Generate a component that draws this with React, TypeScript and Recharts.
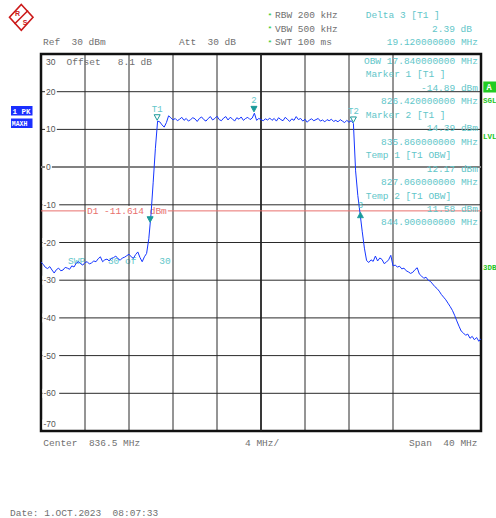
import React from 'react';
import {
  LineChart,
  Line,
  XAxis,
  YAxis,
  CartesianGrid,
  ReferenceLine,
  ReferenceDot,
  ReferenceArea,
} from 'recharts';

// ---- sweep settings ----
const START_MHZ = 816.5;
const STOP_MHZ = 856.5;
const STEP_MHZ = 0.2;
const CENTER_MHZ = 836.5;

// ---- trace 1 (PK / MAXH), dBm, one value per 0.2 MHz from 816.5 MHz ----
const traceLevels = [
  -25.2, -25.8, -26.6, -26.9, -26.4, -27.3, -28.1, -27.2, -26.8, -27.5,
  -27.3, -26.6, -26.8, -27.1, -26.2, -26.5, -25.5, -25.1, -25.6, -26.0,
  -25.3, -25.1, -25.7, -25.4, -24.9, -25.1, -24.3, -23.8, -25.1, -24.6,
  -24.4, -24.9, -24.2, -24.0, -23.6, -24.3, -24.7, -24.1, -23.9, -23.5,
  -23.1, -23.8, -24.2, -23.2, -22.5, -24.0, -25.1, -23.8, -22.9, -19.0,
  -12.5, -4.0, 5.0, 12.2, 12.0, 11.2, 10.6, 11.8, 13.6, 13.1,
  12.5, 12.9, 12.3, 12.7, 13.2, 12.4, 12.9, 12.2, 12.6, 13.1,
  12.8, 12.1, 12.9, 13.3, 12.6, 12.2, 12.9, 13.4, 12.5, 12.9,
  13.5, 12.6, 12.3, 13.0, 13.4, 12.5, 13.2, 12.8, 12.2, 13.1,
  12.7, 13.3, 12.4, 12.9, 13.2, 12.6, 13.0, 14.3, 12.4, 12.9,
  12.6, 12.3, 12.8, 12.5, 13.0, 12.4, 12.9, 12.2, 13.1, 12.6,
  12.3, 13.2, 12.7, 12.1, 12.8, 12.4, 13.4, 12.6, 12.9, 12.2,
  12.7, 11.9, 12.5, 12.8, 12.3, 12.6, 12.9, 12.2, 12.5, 12.0,
  12.6, 12.3, 12.7, 12.1, 12.4, 12.0, 12.6, 12.2, 11.8, 12.4,
  11.9, 12.3, 11.6, -1.0, -7.5, -12.2, -17.0, -21.5, -24.8, -25.3,
  -24.6, -25.0, -23.6, -24.9, -24.1, -24.5, -25.6, -25.2, -24.6, -23.4,
  -26.2, -26.0, -26.5, -26.3, -27.0, -26.8, -27.5, -27.8, -28.2, -27.9,
  -27.2, -26.7, -28.4, -28.9, -29.5, -29.2, -30.0, -30.3, -31.0, -31.7,
  -32.2, -32.9, -33.8, -34.5, -35.2, -36.1, -37.0, -38.0, -39.3, -40.8,
  -42.2, -43.5, -44.0, -44.6, -44.3, -45.4, -44.9, -45.8, -45.2, -46.2,
  -45.5,
];

// ---- axes ----
const freqTicks = [816.5, 820.5, 824.5, 828.5, 832.5, 836.5, 840.5, 844.5, 848.5, 852.5, 856.5];
const levelTicks = [-70, -60, -50, -40, -30, -20, -10, 0, 10, 20, 30];

// ---- display line ----
const displayLineLevel = -11.614;
const displayLineLabel = 'D1 -11.614 dBm';

// ---- markers ----
const markerIds = ['1', 'T1', '2', 'T2', '3'];
const markerFreqs = [826.42, 827.06, 835.86, 844.9, 845.54];
const markerLevels = [-14.89, 12.17, 14.39, 11.58, -12.5];
const markerKinds = ['down-filled', 'down-open', 'down-filled', 'down-open', 'up-filled'];
const markerLabels = ['', 'T1', '2', 'T2', '3'];

// ---- text readouts ----
const headerLeft = ['Ref  30 dBm', 'Att  30 dB'];
const headerSettings = ['RBW 200 kHz', 'VBW 500 kHz', 'SWT 100 ms'];
const deltaReadout = ['Delta 3 [T1 ]', '2.39 dB', '19.120000000 MHz'];
const markerReadout = [
  { t: 'OBW 17.840000000 MHz', right: true },
  { t: 'Marker 1 [T1 ]', right: false },
  { t: '-14.89 dBm', right: true },
  { t: '826.420000000 MHz', right: true },
  { t: 'Marker 2 [T1 ]', right: false },
  { t: '14.39 dBm', right: true },
  { t: '835.860000000 MHz', right: true },
  { t: 'Temp 1 [T1 OBW]', right: false },
  { t: '12.17 dBm', right: true },
  { t: '827.060000000 MHz', right: true },
  { t: 'Temp 2 [T1 OBW]', right: false },
  { t: '11.58 dBm', right: true },
  { t: '844.900000000 MHz', right: true },
];
const footerTexts = ['Center  836.5 MHz', '4 MHz/', 'Span  40 MHz'];
const dateText = 'Date: 1.OCT.2023  08:07:33';
const sweepText = 'SWP    30 of    30';
const offsetText = 'Offset   8.1 dB';

const data = traceLevels.map((v, i) => ({
  f: Math.round((START_MHZ + i * STEP_MHZ) * 100) / 100,
  v,
}));

const W = 496;
const H = 518;
const PLOT_LEFT = 41;
const Y_AXIS_W = 30;
const MONO = '"Liberation Mono", "DejaVu Sans Mono", monospace';
const CYAN = '#62c6c9';
const GRAY = '#707070';
const BLUE = '#1636ff';
const TEAL = '#1a9a9a';
const RED = '#e8706e';

const LevelTick = (props: any) => {
  const { y, payload } = props;
  const v = payload.value as number;
  let ty = y;
  if (v === 30) ty = y + 8;
  if (v === -70) ty = y - 7;
  const label = String(v);
  const tx = v < 0 ? PLOT_LEFT + 2.5 : PLOT_LEFT + 5;
  const w = label.length * 4.9 + 2;
  return (
    <g>
      <rect x={tx - 1} y={ty - 4.5} width={w} height={9} fill="#fff" />
      <text
        x={tx}
        y={ty + 3}
        fontFamily='"Liberation Sans", Arial, sans-serif'
        fontSize={8.5}
        fill="#555"
      >
        {label}
      </text>
    </g>
  );
};

const makeMarkerShape = (kind: string, label: string) => (props: any) => {
  const { cx, cy } = props;
  if (cx == null || cy == null) return <g />;
  let tri;
  if (kind === 'up-filled') {
    tri = (
      <polygon
        points={`${cx},${cy - 2} ${cx - 3},${cy + 3.5} ${cx + 3},${cy + 3.5}`}
        fill={TEAL}
        stroke={TEAL}
        strokeWidth={0.8}
      />
    );
  } else {
    tri = (
      <polygon
        points={`${cx - 3},${cy - 6.5} ${cx + 3},${cy - 6.5} ${cx},${cy - 1}`}
        fill={kind === 'down-filled' ? TEAL : '#fff'}
        stroke={TEAL}
        strokeWidth={1}
      />
    );
  }
  const ly = kind === 'up-filled' ? cy - 6 : cy - 9.5;
  return (
    <g>
      {tri}
      {label ? (
        <text x={cx} y={ly} textAnchor="middle" fontFamily={MONO} fontSize={9} fill={CYAN}>
          {label}
        </text>
      ) : null}
    </g>
  );
};

const D1Label = (props: any) => {
  const vb = props.viewBox || {};
  const x = (vb.x ?? PLOT_LEFT) + 46;
  const y = vb.y ?? 0;
  return (
    <g>
      <rect x={x - 1} y={y - 5} width={displayLineLabel.length * 5.7 + 2} height={10} fill="#fff" />
      <text x={x} y={y + 3} fontFamily={MONO} fontSize={9.5} fill={RED} style={{ whiteSpace: 'pre' }}>
        {displayLineLabel}
      </text>
    </g>
  );
};

const T = (p: { x: number; y: number; fill?: string; anchor?: 'start' | 'end' | 'middle'; size?: number; children: any; weight?: any; family?: string }) => (
  <text
    x={p.x}
    y={p.y}
    fill={p.fill || GRAY}
    textAnchor={p.anchor || 'start'}
    fontFamily={p.family || MONO}
    fontSize={p.size || 9.5}
    fontWeight={p.weight || 'normal'}
    style={{ whiteSpace: 'pre' }}
  >
    {p.children}
  </text>
);

export default function App() {
  return (
    <div style={{ position: 'absolute', left: 0, top: 0, width: W, height: H, background: '#fff' }}>
      {/* underlay texts (drawn beneath trace) */}
      <svg width={W} height={H} style={{ position: 'absolute', left: 0, top: 0 }}>
        <T x={68} y={264} fill={CYAN}>{sweepText}</T>
      </svg>
      <div style={{ position: 'absolute', left: 0, top: 0 }}>
        <LineChart
          width={W}
          height={H}
          data={data}
          margin={{ top: 54, right: 15, bottom: 87, left: PLOT_LEFT - Y_AXIS_W }}
        >
          <XAxis
            dataKey="f"
            type="number"
            domain={[START_MHZ, STOP_MHZ]}
            ticks={freqTicks}
            hide
            height={0}
            allowDataOverflow
          />
          <YAxis
            type="number"
            domain={[-70, 30]}
            ticks={levelTicks}
            width={Y_AXIS_W}
            axisLine={false}
            tickLine={false}
            tick={LevelTick}
            interval={0}
            allowDataOverflow
          />
          <CartesianGrid stroke="#2a2a2a" strokeWidth={1} />
          <ReferenceLine y={0} stroke="#808080" strokeWidth={2} />
          <ReferenceLine x={CENTER_MHZ} stroke="#222" strokeWidth={1.6} />
          <ReferenceLine y={displayLineLevel} stroke={RED} strokeWidth={1} label={D1Label} />
          <Line
            type="linear"
            dataKey="v"
            stroke={BLUE}
            strokeWidth={1}
            dot={false}
            isAnimationActive={false}
          />
          {markerIds.map((id, i) => (
            <ReferenceDot
              key={id}
              x={markerFreqs[i]}
              y={markerLevels[i]}
              r={3}
              shape={makeMarkerShape(markerKinds[i], markerLabels[i])}
            />
          ))}
          <ReferenceArea
            x1={START_MHZ}
            x2={STOP_MHZ}
            y1={-70}
            y2={30}
            fill="none"
            fillOpacity={0}
            stroke="#111"
            strokeWidth={2.5}
          />
        </LineChart>
      </div>
      {/* overlay texts */}
      <svg width={W} height={H} style={{ position: 'absolute', left: 0, top: 0, pointerEvents: 'none' }}>
        {/* R&S logo */}
        <g>
          <polygon points="21.3,4.5 33,17.3 21.3,30.3 9.5,17.3" fill="#fff" stroke="#cc1a1a" strokeWidth={1.6} />
          <line x1={14.5} y1={24} x2={28} y2={10.5} stroke="#cc1a1a" strokeWidth={1.6} />
          <text x={17.5} y={16} fontFamily='"Liberation Sans", Arial, sans-serif' fontSize={7} fontWeight="bold" fill="#cc1a1a" textAnchor="middle">R</text>
          <text x={25} y={25} fontFamily='"Liberation Sans", Arial, sans-serif' fontSize={7} fontWeight="bold" fill="#cc1a1a" textAnchor="middle">S</text>
        </g>

        <T x={43} y={45}>{headerLeft[0]}</T>
        <T x={179} y={45}>{headerLeft[1]}</T>

        {headerSettings.map((s, i) => (
          <g key={s}>
            <T x={267.5} y={17.5 + i * 13.7} fill="#22c422" size={8}>*</T>
            <T x={275} y={18 + i * 13.7}>{s}</T>
          </g>
        ))}

        <T x={365.7} y={18} fill={CYAN}>{deltaReadout[0]}</T>
        <T x={472} y={31.5} fill={CYAN} anchor="end">{deltaReadout[1]}</T>
        <T x={478} y={45} fill={CYAN} anchor="end">{deltaReadout[2]}</T>

        <T x={66.5} y={65}>{offsetText}</T>

        {markerReadout.map((m, i) =>
          m.right ? (
            <T key={i} x={478} y={64 + i * 13.45} fill={CYAN} anchor="end">{m.t}</T>
          ) : (
            <T key={i} x={365.7} y={64 + i * 13.45} fill={CYAN}>{m.t}</T>
          )
        )}

        {/* left trace info boxes */}
        <rect x={11} y={106} width={21.5} height={9.5} fill="#1a2fff" />
        <T x={12.5} y={113.5} fill="#fff" size={7.5} weight="bold">1 PK</T>
        <rect x={11} y={118.5} width={21.5} height={9.5} fill="#1a2fff" />
        <T x={11.8} y={126} fill="#fff" size={6.5} weight="bold">MAXH</T>

        {/* right status */}
        <rect x={483.3} y={81.5} width={13} height={11} fill="#22cc22" />
        <T x={486.5} y={90} fill="#fff" size={8.5} weight="bold">A</T>
        <T x={483} y={103} fill="#22c422" size={7.5} weight="bold">SGL</T>
        <T x={483} y={139} fill="#22c422" size={7.5} weight="bold">LVL</T>
        <T x={483} y={270} fill="#22c422" size={7.5} weight="bold">3DB</T>

        <T x={43.3} y={446}>{footerTexts[0]}</T>
        <T x={245} y={446}>{footerTexts[1]}</T>
        <T x={477.5} y={446} anchor="end">{footerTexts[2]}</T>

        <T x={10} y={515.5}>{dateText}</T>
      </svg>
    </div>
  );
}
